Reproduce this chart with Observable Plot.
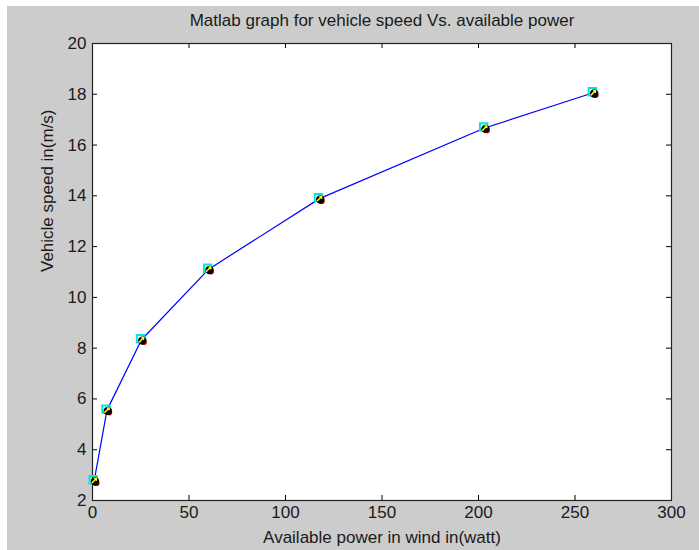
<!DOCTYPE html>
<html>
<head>
<meta charset="utf-8">
<script src="https://cdn.jsdelivr.net/npm/d3@7"></script>
<script src="https://cdn.jsdelivr.net/npm/@observablehq/plot@0.6"></script>
<style>
  html, body { margin: 0; padding: 0; background: #ffffff; }
  #chart { position: absolute; left: 7px; top: 6px; }
  #chart svg { background: #cccccc; display: block; }
</style>
</head>
<body>
<div id="chart"></div>
<script>
const power = [0.9, 7.5, 25.4, 60.2, 117.6, 203.2, 259.5];
const speed = [2.78, 5.56, 8.33, 11.11, 13.89, 16.67, 18.06];
const xTicks = [0, 50, 100, 150, 200, 250, 300];
const yTicks = [2, 4, 6, 8, 10, 12, 14, 16, 18, 20];
const titleText = "Matlab graph for vehicle speed Vs. available power";
const xLabel = "Available power in wind in(watt)";
const yLabel = "Vehicle speed in(m/s)";

const data = power.map((p, i) => ({p, s: speed[i]}));

const W = 692, H = 544, mT = 37, mR = 28, mB = 50, mL = 85;
const innerH = H - mT - mB, innerW = W - mL - mR;
const font = "Liberation Sans, Arial, Helvetica, sans-serif";
const fs = 17;

const chart = Plot.plot({
  width: W, height: H,
  marginTop: mT, marginRight: mR, marginBottom: mB, marginLeft: mL,
  style: {fontFamily: font, fontSize: fs + "px", color: "#1a1a1a", background: "#cccccc"},
  x: {domain: [0, 300], axis: null},
  y: {domain: [2, 20], axis: null},
  marks: [
    Plot.frame({fill: "white", stroke: null}),
    Plot.gridX(xTicks, {stroke: "#000", strokeOpacity: 1, insetTop: innerH - 5}),
    Plot.gridX(xTicks, {stroke: "#000", strokeOpacity: 1, insetBottom: innerH - 5}),
    Plot.gridY(yTicks, {stroke: "#000", strokeOpacity: 1, insetRight: innerW - 5}),
    Plot.gridY(yTicks, {stroke: "#000", strokeOpacity: 1, insetLeft: innerW - 5}),
    Plot.frame({stroke: "#222", strokeWidth: 1.2}),
    Plot.axisX(xTicks, {anchor: "bottom", tickSize: 0, tickPadding: 5, fontSize: fs, fill: "#1a1a1a", label: null}),
    Plot.axisY(yTicks, {anchor: "left", tickSize: 0, tickPadding: 6, fontSize: fs, fill: "#1a1a1a", label: null}),
    Plot.line(data, {x: "p", y: "s", stroke: "#0000ff", strokeWidth: 1.2}),
    Plot.dot(data, {x: "p", y: "s", symbol: "square", r: 4.2, stroke: "#00e5e5", strokeWidth: 2, fill: "none", dx: -1, dy: -1}),
    Plot.dot(data, {x: "p", y: "s", r: 2.8, fill: "#ff0000", dx: 2.5, dy: 2.5}),
    Plot.dot(data, {x: "p", y: "s", r: 4.2, fill: "#000000", dx: 0.8, dy: 0.8}),
    Plot.vector(data, {x: "p", y: "s", length: 6, rotate: 45, anchor: "middle", stroke: "#ffff00", strokeWidth: 1.5}),
    Plot.text([titleText], {frameAnchor: "top", dy: -23, text: d => d, fontSize: fs, fill: "#1a1a1a", lineAnchor: "middle"}),
    Plot.text([xLabel], {frameAnchor: "bottom", dy: 37, text: d => d, fontSize: fs, fill: "#1a1a1a", lineAnchor: "middle"}),
    Plot.text([yLabel], {frameAnchor: "left", dx: -45, text: d => d, fontSize: fs, fill: "#1a1a1a", rotate: -90, lineAnchor: "middle"})
  ]
});
document.getElementById("chart").appendChild(chart);
</script>
</body>
</html>
